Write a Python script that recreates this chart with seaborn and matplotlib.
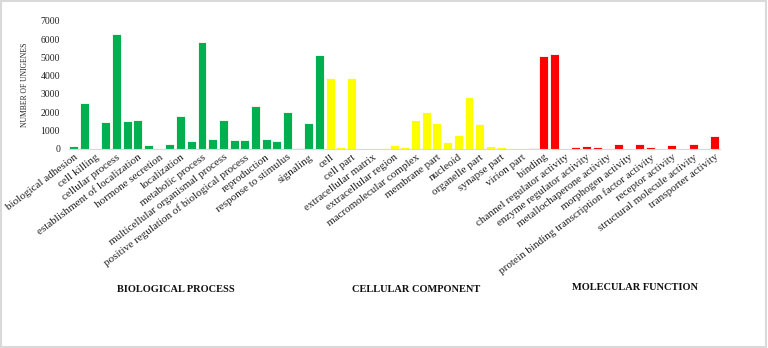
import matplotlib
matplotlib.use('Agg')
import matplotlib.pyplot as plt
import seaborn as sns
import pandas as pd
from matplotlib.patches import Rectangle

# ---------------- data ----------------
bp_terms = [
    "biological adhesion", "biological regulation", "cell killing",
    "cellular component organization or biogenesis", "cellular process",
    "developmental process", "establishment of localization", "growth",
    "hormone secretion", "immune system process", "localization", "locomotion",
    "metabolic process", "multi-organism process", "multicellular organismal process",
    "negative regulation of biological process",
    "positive regulation of biological process", "regulation of biological process",
    "reproduction", "reproductive process", "response to stimulus",
    "rhythmic process", "signaling", "single-organism process",
]
bp_counts = [150, 2516, 0, 1473, 6275, 1510, 1566, 192, 0, 247, 1769, 412,
             5870, 505, 1566, 484, 450, 2335, 505, 430, 1989, 45, 1383, 5137]

cc_terms = [
    "cell", "cell junction", "cell part", "collagen trimer", "extracellular matrix",
    "extracellular matrix part", "extracellular region", "extracellular region part",
    "macromolecular complex", "membrane", "membrane part", "membrane-enclosed lumen",
    "nucleoid", "organelle", "organelle part", "synapse", "synapse part",
    "virion", "virion part",
]
cc_counts = [3892, 100, 3892, 0, 20, 5, 210, 100, 1548, 2005, 1400, 375,
             760, 2830, 1346, 140, 80, 20, 20]

mf_terms = [
    "antioxidant activity", "binding", "catalytic activity",
    "channel regulator activity", "electron carrier activity",
    "enzyme regulator activity", "guanyl-nucleotide exchange factor activity",
    "metallochaperone activity", "molecular transducer activity",
    "morphogen activity", "nucleic acid binding transcription factor activity",
    "protein binding transcription factor activity", "protein tag",
    "receptor activity", "receptor regulator activity",
    "structural molecule activity", "translation regulator activity",
    "transporter activity",
]
mf_counts = [40, 5100, 5190, 0, 55, 140, 55, 0, 230, 0, 230, 70, 0,
             210, 0, 260, 0, 690]

group_names = ["BIOLOGICAL PROCESS", "CELLULAR COMPONENT", "MOLECULAR FUNCTION"]
group_colors = ["#00B050", "#FFFF00", "#FF0000"]
y_ticks = [0, 1000, 2000, 3000, 4000, 5000, 6000, 7000]

# ---------------- build table ----------------
df = pd.DataFrame({
    "term": bp_terms + cc_terms + mf_terms,
    "count": bp_counts + cc_counts + mf_counts,
    "group": [group_names[0]] * len(bp_terms) + [group_names[1]] * len(cc_terms)
             + [group_names[2]] * len(mf_terms),
})

sns.set_theme(style="white")
plt.rcParams['font.family'] = ['Liberation Serif', 'DejaVu Serif']

W, H = 768, 348
fig = plt.figure(figsize=(W / 100, H / 100), dpi=100)
ax = fig.add_axes([68.5 / W, 1 - 148.5 / H, (720 - 68.5) / W, (148.5 - 21) / H])

sns.barplot(data=df, x="term", y="count", hue="group", order=list(df["term"]),
            hue_order=group_names, palette=dict(zip(group_names, group_colors)),
            dodge=False, width=0.84, edgecolor="white", linewidth=0.6,
            saturation=1, legend=False, ax=ax)

ax.set_ylim(0, 7000)
ax.set_xlim(-0.5, len(df) - 0.5)
ax.set_yticks(y_ticks)
ax.set_yticklabels([str(v) for v in y_ticks], fontsize=7, color="#222222")
ax.set_xticks(range(len(df)))
ax.set_xticklabels([t if i % 2 == 0 else "" for i, t in enumerate(df["term"])],
                   rotation=37, ha="right", va="top", rotation_mode="anchor",
                   fontsize=8, color="#222222")
ax.tick_params(axis="both", length=0)
ax.tick_params(axis="x", pad=3)
ax.tick_params(axis="y", pad=6)
ax.set_xlabel("")
ax.set_ylabel("NUMBER OF UNIGENES", fontsize=5.5, color="#222222", labelpad=8)
for s in ["left", "top", "right"]:
    ax.spines[s].set_visible(False)
ax.spines["bottom"].set_color("#d9d9d9")
ax.spines["bottom"].set_linewidth(0.8)

fig.text(176 / W, 1 - 290 / H, group_names[0], ha="center", va="center",
         fontsize=7.5, fontweight="bold", color="#111111")
fig.text(416.5 / W, 1 - 290 / H, group_names[1], ha="center", va="center",
         fontsize=7.5, fontweight="bold", color="#111111")
fig.text(635 / W, 1 - 288 / H, group_names[2], ha="center", va="center",
         fontsize=7.5, fontweight="bold", color="#111111")

fig.add_artist(Rectangle((0.001, 0.002), 0.997, 0.995, transform=fig.transFigure,
                         fill=False, edgecolor="#d9d9d9", linewidth=1.5))

fig.savefig("out.png", dpi=100)
